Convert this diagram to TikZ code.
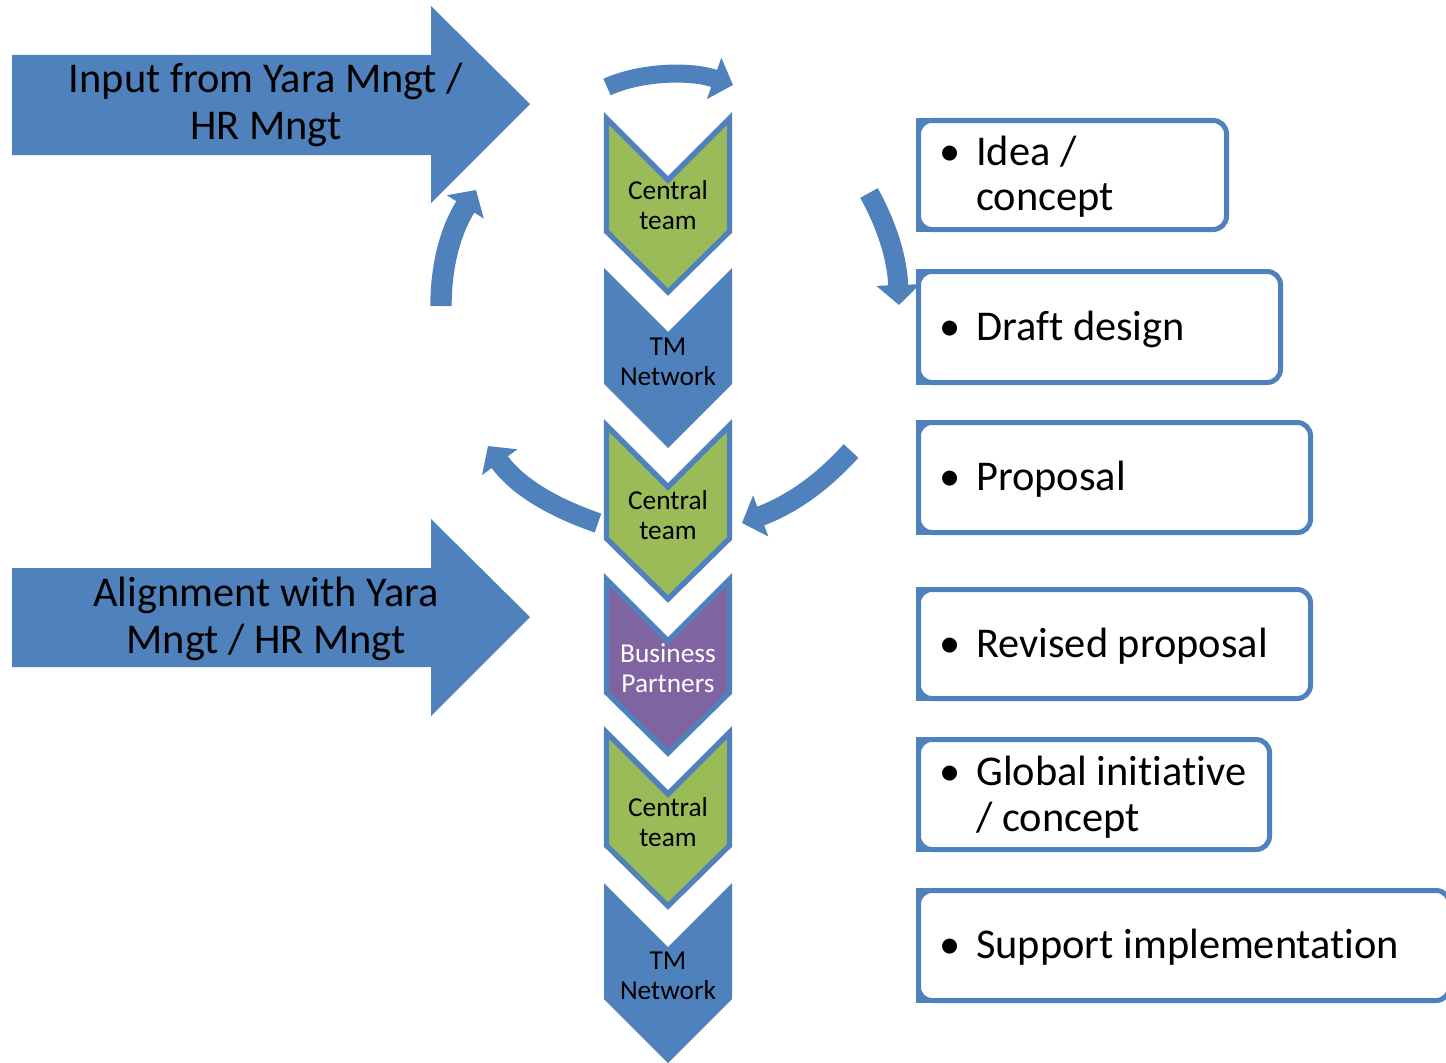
\documentclass[tikz,border=0pt]{standalone}
\usepackage{fontspec}
\setmainfont{Carlito}[Ligatures=NoCommon]
\usetikzlibrary{arrows.meta}
\definecolor{ablue}{HTML}{4F81BD}
\definecolor{agreen}{HTML}{9BBB59}
\definecolor{apurple}{HTML}{8064A2}
\begin{document}
\begin{tikzpicture}[x=0.75pt,y=-0.75pt,
  chev/.pic={\path[pic actions] (-64,0) -- (0,64) -- (64,0) -- (64,116) -- (0,180) -- (-64,116) -- cycle;},
  chevb/.pic={\path[pic actions] (-61.5,3.5) -- (0,65) -- (61.5,3.5) -- (61.5,116.5) -- (0,177) -- (-61.5,116.5) -- cycle;},
  gchev/.style={fill=agreen,draw=ablue,line width=4pt},
  bchev/.style={fill=ablue},
  pchev/.style={fill=apurple,draw=ablue,line width=4pt},
  ctext/.style={anchor=base,inner sep=0pt,font=\fontsize{20.5}{22.5}\selectfont},
  bigtext/.style={anchor=base,inner sep=0pt,font=\fontsize{31.8}{35.25}\selectfont},
  box/.style={draw=ablue,fill=white,line width=3.75pt,rounded corners=10pt,outer sep=0pt,inner sep=0pt},
  boxedge/.style={draw=ablue,line width=3.75pt},
  bul/.style={anchor=base,inner sep=0pt,font=\fontsize{31.8}{34.5}\selectfont},
  btext/.style={anchor=base west,inner sep=0pt,font=\fontsize{31.8}{34.5}\selectfont},
  curv/.style={draw=ablue,line width=15pt,-{Triangle[width=32pt,length=15pt]}},
  bigarrow/.style={fill=ablue},
]
\clip (0,0) rectangle (1446,1063);
\fill[white] (0,0) rectangle (1446,1063);

% big arrows
\fill[bigarrow] (12,55) -- (431,55) -- (431,6) -- (530,104) -- (431,203) -- (431,155) -- (12,155) -- cycle;
\node[bigtext] (in1) at (266,93) {\begin{tabular}[t]{@{}c@{}}Input from Yara Mngt /\\HR Mngt\end{tabular}};
\fill[bigarrow] (12,568) -- (431,568) -- (431,519) -- (530,617) -- (431,716) -- (431,667) -- (12,667) -- cycle;
\node[bigtext] (in2) at (266,606) {\begin{tabular}[t]{@{}c@{}}Alignment with Yara\\Mngt / HR Mngt\end{tabular}};

% chevrons
\pic (ch1) [gchev] at (668,115) {chevb};
\pic (ch2) [bchev] at (668,268) {chev};
\pic (ch3) [gchev] at (668,422) {chevb};
\pic (ch4) [pchev] at (668,576) {chevb};
\pic (ch5) [gchev] at (668,729) {chevb};
\pic (ch6) [bchev] at (668,883) {chev};
\node[ctext] (t1) at (668,199) {\begin{tabular}[t]{@{}c@{}}Central\\team\end{tabular}};
\node[ctext] (t2) at (668,355) {\begin{tabular}[t]{@{}c@{}}TM\\Network\end{tabular}};
\node[ctext] (t3) at (668,509) {\begin{tabular}[t]{@{}c@{}}Central\\team\end{tabular}};
\node[ctext,text=white] (t4) at (668,662) {\begin{tabular}[t]{@{}c@{}}Business\\Partners\end{tabular}};
\node[ctext] (t5) at (668,816) {\begin{tabular}[t]{@{}c@{}}Central\\team\end{tabular}};
\node[ctext] (t6) at (668,969) {\begin{tabular}[t]{@{}c@{}}TM\\Network\end{tabular}};

% curved arrows
\coordinate (a1s) at (607,87);  \coordinate (a1e) at (733,85);
\draw[curv,line width=13.5pt] (a1s) .. controls (640,72) and (690,70) .. (a1e);
\coordinate (a2s) at (441,306); \coordinate (a2e) at (476,190);
\draw[curv,line width=16pt] (a2s) .. controls (441,262) and (452,228) .. (a2e);
\coordinate (a3s) at (869,193); \coordinate (a3e) at (899,305);
\draw[curv] (a3s) .. controls (885,222) and (897,255) .. (a3e);
\coordinate (a4s) at (598,523); \coordinate (a4e) at (488,446);
\draw[curv] (a4s) .. controls (560,510) and (520,490) .. (a4e);
\coordinate (a5s) at (851,451); \coordinate (a5e) at (742,523);
\draw[curv] (a5s) .. controls (820,485) and (790,505) .. (a5e);

% boxes
\node[box,minimum width={308*0.75pt},minimum height={109*0.75pt}] (b1) at (1072.5,175) {};
\node[box,minimum width={362*0.75pt},minimum height={111*0.75pt}] (b2) at (1099.5,327) {};
\node[box,minimum width={392*0.75pt},minimum height={110*0.75pt}] (b3) at (1114.5,477.5) {};
\node[box,minimum width={392*0.75pt},minimum height={109*0.75pt}] (b4) at (1114.5,644) {};
\node[box,minimum width={351*0.75pt},minimum height={110*0.75pt}] (b5) at (1094,794.5) {};
\node[box,minimum width={531*0.75pt},minimum height={110*0.75pt}] (b6) at (1184,945.5) {};
\foreach \b in {b1,b2,b3,b4,b5,b6}{
  \draw[boxedge] ([xshift=30pt]\b.north west) -- (\b.north west) -- (\b.south west) -- ([xshift=30pt]\b.south west);
}

\node[bul] (d1) at (950,165) {\textbullet};
\node[btext] (x1) at (976,165) {\begin{tabular}[t]{@{}l@{}}Idea /\\concept\end{tabular}};
\node[bul] (d2) at (950,340) {\textbullet};
\node[btext] (x2) at (976,340) {Draft design};
\node[bul] (d3) at (950,490) {\textbullet};
\node[btext] (x3) at (976,490) {Proposal};
\node[bul] (d4) at (950,657) {\textbullet};
\node[btext] (x4) at (976,657) {Revised proposal};
\node[bul] (d5) at (950,785) {\textbullet};
\node[btext] (x5) at (976,785) {\begin{tabular}[t]{@{}l@{}}Global initiative\\/ concept\end{tabular}};
\node[bul] (d6) at (950,958) {\textbullet};
\node[btext] (x6) at (976,958) {Support implementation};
\end{tikzpicture}
\end{document}
